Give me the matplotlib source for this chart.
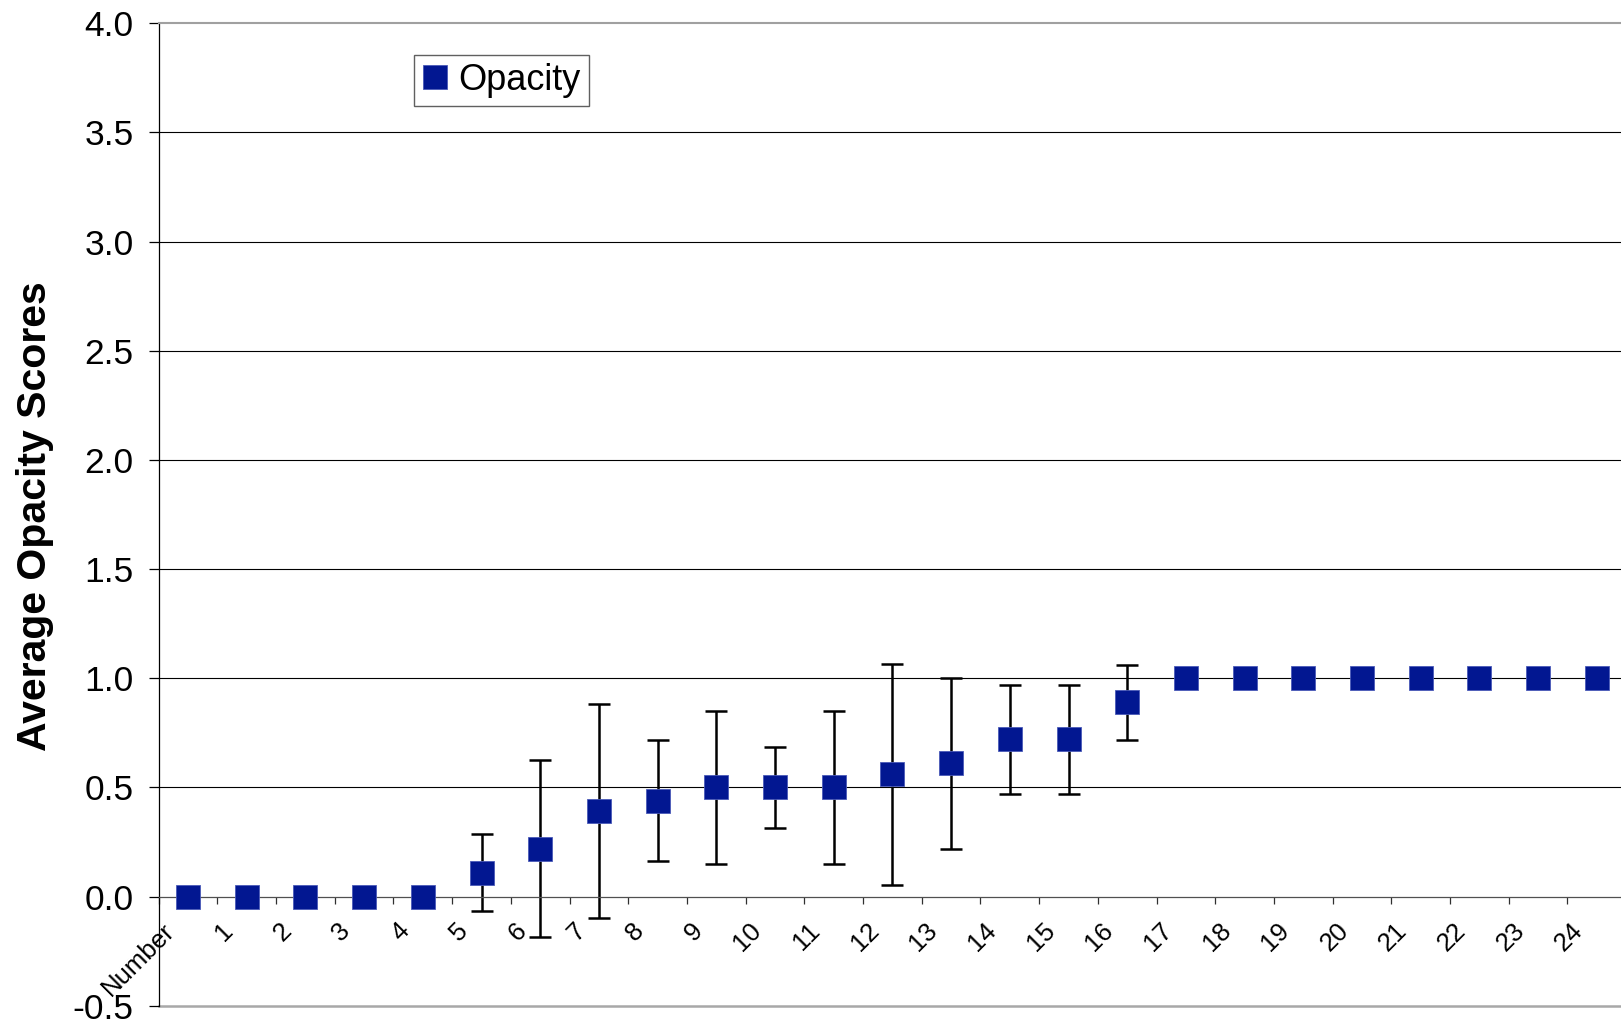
import numpy as np
import matplotlib
matplotlib.use('Agg')
import matplotlib.pyplot as plt
from matplotlib.transforms import offset_copy

plt.rcParams['font.family'] = ['Liberation Sans', 'DejaVu Sans']

# categories along the bottom
categories = ['Number'] + [str(i) for i in range(1, 25)]

# average opacity score per category
scores = [0, 0, 0, 0, 0,
          0.11, 0.22, 0.39, 0.44, 0.50, 0.50, 0.50, 0.56, 0.61, 0.72, 0.72, 0.89,
          1, 1, 1, 1, 1, 1, 1, 1]

# +/- error, 0 means no bar drawn
errors = [0, 0, 0, 0, 0,
          0.175, 0.405, 0.49, 0.275, 0.35, 0.185, 0.35, 0.505, 0.39, 0.25, 0.25, 0.172,
          0, 0, 0, 0, 0, 0, 0, 0]

y_ticks = [-0.5, 0.0, 0.5, 1.0, 1.5, 2.0, 2.5, 3.0, 3.5, 4.0]

navy = '#021791'

fig = plt.figure(figsize=(16.21, 10.23), dpi=100)
ax = fig.add_axes([0.0979, 0.0169, 0.9053, 0.9603])

x = np.arange(len(categories)) + 0.5
s = np.array(scores)
e = np.array(errors)
has_err = e > 0

# gridlines
for yv in y_ticks[2:-1]:
    ax.axhline(yv, color='black', lw=0.8, zorder=1)

ax.errorbar(x[has_err], s[has_err], yerr=e[has_err], fmt='none', ecolor='black',
            elinewidth=1.8, capsize=8, capthick=1.8, zorder=2)
ax.plot(x, s, ls='none', marker='s', ms=17.3, mfc=navy, mec='#4a5ab8', mew=0.6,
        label='Opacity', zorder=3, clip_on=False)

ax.set_xlim(0, len(categories))
ax.set_ylim(-0.5, 4.0)

# spines: category axis crosses at zero
ax.spines['bottom'].set_position(('data', 0))
ax.spines['bottom'].set_color('#505050')
ax.spines['bottom'].set_linewidth(0.9)
ax.spines['right'].set_visible(False)
ax.spines['top'].set_color('#a0a0a0')
ax.spines['top'].set_linewidth(1.5)
ax.spines['left'].set_color('black')
ax.spines['left'].set_linewidth(0.9)
ax.axhline(-0.5, color='#a8a8a8', lw=1.8, zorder=1, clip_on=False)

ax.set_xticks(np.arange(len(categories) + 1))
ax.set_xticklabels([])
ax.tick_params(axis='x', direction='out', length=5, width=0.9, color='#303030')

ax.set_yticks(y_ticks)
ax.set_yticklabels([f'{v:.1f}' for v in y_ticks], fontsize=25.5)
ax.tick_params(axis='y', direction='out', length=7.2, width=0.9, pad=11)

# rotated category labels, offset to the lower left of each marker
trans = offset_copy(ax.transData, fig=fig, x=-9, y=-22, units='dots')
for xi, lab in zip(x, categories):
    ax.text(xi, 0, lab, rotation=45, ha='right', va='top', fontsize=18.5,
            transform=trans)

fig.text(0.0216, 0.4958, 'Average Opacity Scores', rotation=90, ha='center',
         va='center', fontsize=29.5, fontweight='bold')

leg = ax.legend(loc='upper left', bbox_to_anchor=(0.1742, 0.968), borderaxespad=0,
                fontsize=26, numpoints=1, fancybox=False, framealpha=1,
                edgecolor='#606060', borderpad=0.22, handlelength=0.7,
                handletextpad=0.3)
leg.get_frame().set_linewidth(1.0)

fig.savefig('out.png', dpi=100)
